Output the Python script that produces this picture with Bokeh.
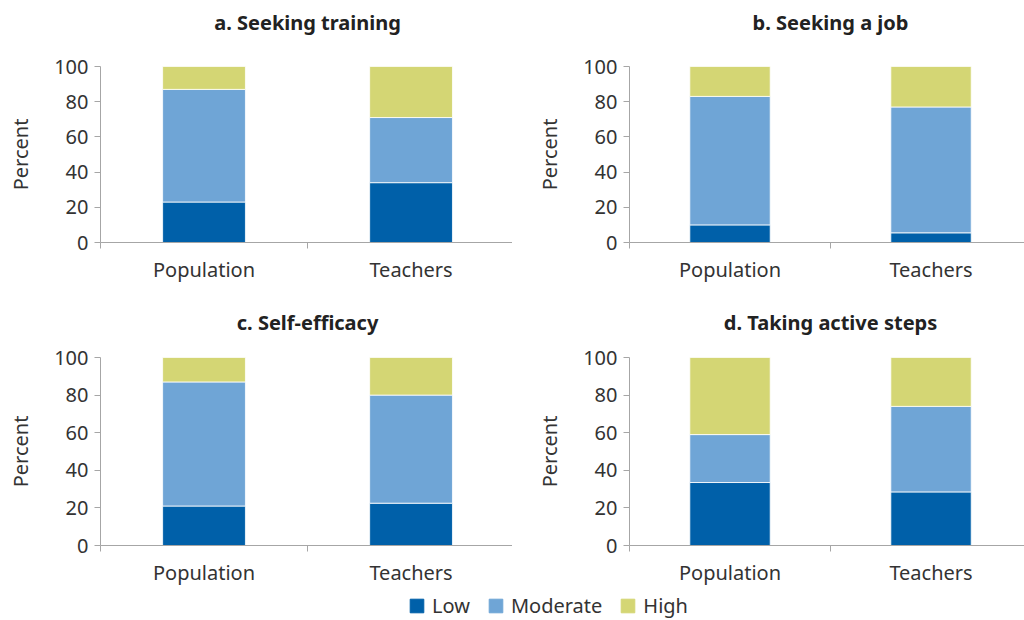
from bokeh.plotting import figure
from bokeh.models import ColumnDataSource, FixedTicker, Legend, LegendItem, Range1d
from bokeh.core.properties import value
from bokeh.layouts import column, row
from bokeh.embed import file_html
from bokeh.resources import INLINE

categories = ["Population", "Teachers"]
levels = ["Low", "Moderate", "High"]
colors = ["#0060A9", "#6FA5D6", "#D4D674"]

titles = ["a. Seeking training", "b. Seeking a job", "c. Self-efficacy", "d. Taking active steps"]
low_a = [23, 34]
mod_a = [64, 37]
high_a = [13, 29]
low_b = [10, 5.5]
mod_b = [73, 71.5]
high_b = [17, 23]
low_c = [21, 22.5]
mod_c = [66, 57.5]
high_c = [13, 20]
low_d = [33.5, 28.5]
mod_d = [25.5, 45.5]
high_d = [41, 26]
yticks = [0, 20, 40, 60, 80, 100]

FONT = "Noto Sans"
AX = "#A6A6A6"
TXT = "#333333"
FS = "20px"
W = 512


def title_fig(text, height, left, x_end, cy):
    # title centred over the category separator of the panel below
    frame_w = W - left
    cx = left + frame_w * (len(categories) / 2) / x_end
    t = figure(width=W, height=height, output_backend="svg", toolbar_location=None,
               min_border=0, outline_line_color=None,
               x_range=Range1d(0, W), y_range=Range1d(height, 0))
    t.axis.visible = False
    t.grid.visible = False
    t.text(x=[cx], y=[cy], text=[text], text_align="center", text_baseline="middle",
           text_font=value(FONT), text_font_size=FS, text_font_style="bold",
           text_color="#222222")
    return t


def panel(low, mod, high, height, left, top, bottom, x_end):
    p = figure(width=W, height=height, output_backend="svg", toolbar_location=None,
               x_range=Range1d(0, x_end), y_range=Range1d(0, 100),
               min_border_left=left, min_border_right=0, min_border_top=top,
               min_border_bottom=bottom, outline_line_color=None)
    xs = [i + 0.5 for i in range(len(categories))]
    src = ColumnDataSource(dict(x=xs, Low=low, Moderate=mod, High=high))
    p.vbar_stack(levels, x="x", width=0.4, source=src, color=colors,
                 line_color="white", line_width=0.8)
    p.xgrid.visible = False
    p.ygrid.visible = False
    xa = p.xaxis[0]
    xa.ticker = FixedTicker(ticks=xs, minor_ticks=list(range(len(categories) + 1)))
    xa.major_label_overrides = {x: c for x, c in zip(xs, categories)}
    xa.major_tick_line_color = None
    xa.major_tick_out = 6
    xa.major_tick_in = 0
    xa.minor_tick_out = 6
    xa.minor_tick_in = 0
    xa.minor_tick_line_color = AX
    xa.axis_line_color = AX
    xa.major_label_text_font = FONT
    xa.major_label_text_font_size = FS
    xa.major_label_text_color = TXT
    xa.major_label_standoff = 7
    ya = p.yaxis[0]
    ya.ticker = FixedTicker(ticks=yticks)
    ya.minor_tick_line_color = None
    ya.major_tick_out = 6
    ya.major_tick_in = 0
    ya.major_tick_line_color = AX
    ya.axis_line_color = AX
    ya.major_label_text_font = FONT
    ya.major_label_text_font_size = FS
    ya.major_label_text_color = TXT
    ya.major_label_standoff = 6
    ya.axis_label = "Percent"
    ya.axis_label_text_font = FONT
    ya.axis_label_text_font_size = FS
    ya.axis_label_text_font_style = "normal"
    ya.axis_label_text_color = TXT
    ya.axis_label_standoff = 17
    return p


XA, XB = 1.99, 1.965
LA, LB = 100, 117

ta = title_fig(titles[0], 50, LA, XA, 22)
tb = title_fig(titles[1], 50, LB, XB, 22)
pa = panel(low_a, mod_a, high_a, 248, LA, 16, 56, XA)
pb = panel(low_b, mod_b, high_b, 248, LB, 16, 56, XB)
tc = title_fig(titles[2], 43, LA, XA, 24)
td = title_fig(titles[3], 43, LB, XB, 24)
pc = panel(low_c, mod_c, high_c, 249, LA, 16, 45, XA)
pd = panel(low_d, mod_d, high_d, 249, LB, 16, 45, XB)

lg = figure(width=1024, height=30, output_backend="svg", toolbar_location=None,
            min_border=0, outline_line_color=None, x_range=Range1d(0, 1), y_range=Range1d(0, 1))
lg.axis.visible = False
lg.grid.visible = False
items = []
for lev, col in zip(levels, colors):
    r = lg.vbar(x=[-10], top=[-10], width=0.1, color=col)
    items.append(LegendItem(label=lev, renderers=[r]))
leg = Legend(items=items, orientation="horizontal", location=(408, 1),
             glyph_width=17, glyph_height=17, label_standoff=7, spacing=17,
             padding=0, margin=0, border_line_color=None, background_fill_alpha=0,
             label_text_font=FONT, label_text_font_size=FS, label_text_color=TXT)
lg.add_layout(leg, "center")

layout = column(row(ta, tb), row(pa, pb), row(tc, td), row(pc, pd), lg)
open("out.html", "w").write(file_html(layout, INLINE))
